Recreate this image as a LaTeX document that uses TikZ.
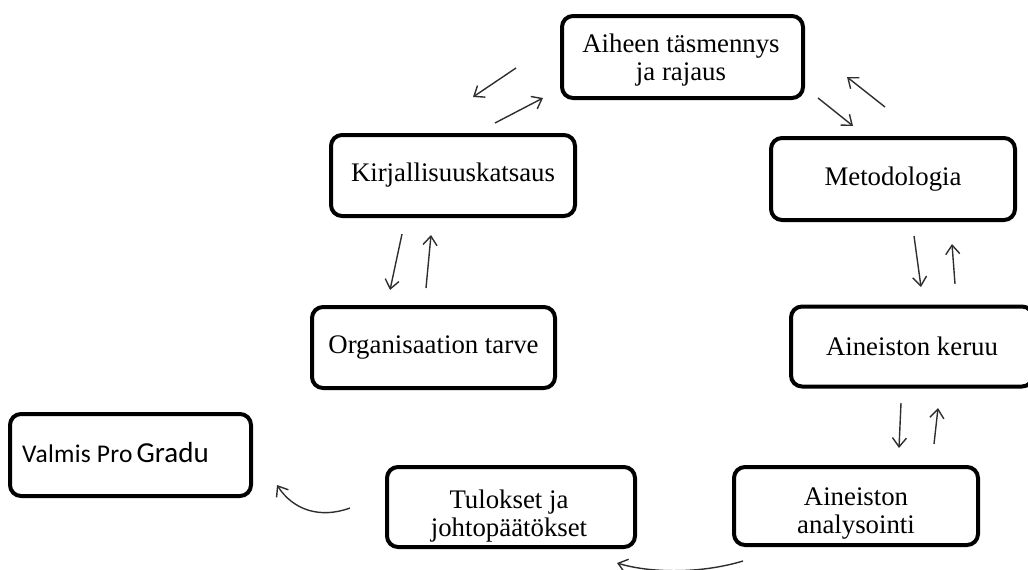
\documentclass[tikz,border=0pt]{standalone}
\usepackage{fontspec}
\setmainfont{Liberation Serif}
\newfontfamily\calib{Carlito}
\newfontfamily\calibwide[LetterSpace=1.1]{Carlito}
\usetikzlibrary{arrows.meta}

\tikzset{
  stage/.style={draw=black, line width=4pt, rounded corners=11pt, fill=white,
    inner sep=0pt, align=center, font=\fontsize{26.8}{28}\selectfont},
  caption/.style={inner sep=0pt, align=center, font=\fontsize{26.8}{28}\selectfont},
  flow/.style={draw=black!82, line width=1.4pt,
    -{Straight Barb[length=9pt,width=14pt,line width=1.4pt]}},
}

\begin{document}
\begin{tikzpicture}[x=1pt,y=-1pt]
\useasboundingbox (0,0) rectangle (1028,570);
\clip (0,0) rectangle (1028,570);

% process stages
\node[stage, minimum width=241pt, minimum height=82pt] (aihe) at (682.5,57) {};
\node[caption] (aihe-t) at (681,60.5) {Aiheen täsmennys\\ja rajaus};
\node[stage, minimum width=244pt, minimum height=81pt] (kirj) at (453,175.5) {Kirjallisuuskatsaus};
\node[stage, minimum width=243pt, minimum height=81pt] (org) at (433.5,347.5) {Organisaation tarve};
\node[stage, minimum width=244pt, minimum height=82pt] (meto) at (893,179) {Metodologia};
\node[stage, minimum width=242pt, minimum height=80pt] (keruu) at (912,346.5) {Aineiston keruu};
\node[stage, minimum width=244pt, minimum height=78pt] (anal) at (856,506) {};
\node[caption] (anal-t) at (856,514) {Aineiston\\analysointi};
\node[stage, minimum width=248pt, minimum height=80pt] (tulo) at (511,507) {};
\node[caption] (tulo-t) at (509,516) {Tulokset ja\\johtopäätökset};
\node[stage, minimum width=241pt, minimum height=82pt] (valmis) at (130.5,455) {};
\node[inner sep=0pt, anchor=base west] (valmis-t) at (22,462)
  {{\calibwide\fontsize{25.5}{30}\selectfont Valmis Pro}\hspace{4pt}{\calib\fontsize{29}{30}\selectfont Gradu}};

% free ends of the short arrows between stages
\coordinate (p1s) at (516,68);  \coordinate (p1e) at (473,97);
\coordinate (p2s) at (495,123); \coordinate (p2e) at (543,98);
\coordinate (p3s) at (818,98);  \coordinate (p3e) at (853,126);
\coordinate (p4s) at (885,107); \coordinate (p4e) at (847,77);
\coordinate (p5s) at (402,234); \coordinate (p5e) at (390,290);
\coordinate (p6s) at (426,288); \coordinate (p6e) at (431,235);
\coordinate (p7s) at (914,236); \coordinate (p7e) at (921,287);
\coordinate (p8s) at (955,284); \coordinate (p8e) at (952,244);
\coordinate (p9s) at (901,403); \coordinate (p9e) at (899,448);
\coordinate (p10s) at (934,444); \coordinate (p10e) at (938,408);
\coordinate (c1s) at (743,561); \coordinate (c1e) at (617,563);
\coordinate (c2s) at (350,508); \coordinate (c2e) at (277,485);

\draw[flow] (p1s) -- (p1e);
\draw[flow] (p2s) -- (p2e);
\draw[flow] (p3s) -- (p3e);
\draw[flow] (p4s) -- (p4e);
\draw[flow] (p5s) -- (p5e);
\draw[flow] (p6s) -- (p6e);
\draw[flow] (p7s) -- (p7e);
\draw[flow] (p8s) -- (p8e);
\draw[flow] (p9s) -- (p9e);
\draw[flow] (p10s) -- (p10e);

% curved arrows towards the final stage
\draw[flow] (c1s) .. controls (700,574) and (650,573) .. (c1e);
\draw[flow] (c2s) .. controls (320,519) and (293,510) .. (c2e);
\end{tikzpicture}
\end{document}
